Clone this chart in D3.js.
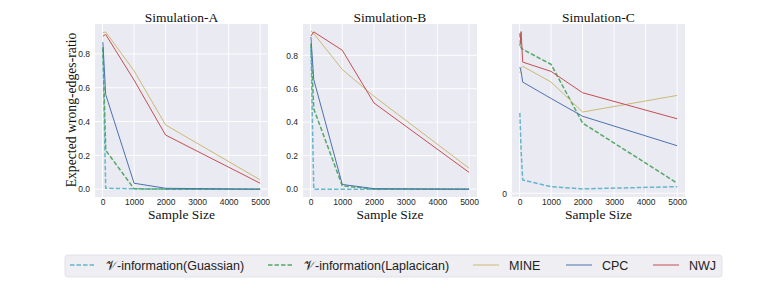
<!DOCTYPE html>
<html>
<head>
<meta charset="utf-8">
<script src="https://cdn.jsdelivr.net/npm/d3@7"></script>
<style>
	body { margin: 0; background: #fff; }
	svg { display: block; }
</style>
</head>
<body>
<svg id="chart" width="761" height="293"></svg>
<script>
// sample sizes on the x axis
var sizesAB = [10, 100, 1000, 2000, 5000];
var sizesC = [10, 50, 100, 1000, 2000, 5000];
var xTicks = [0, 1000, 2000, 3000, 4000, 5000];
var yTicks = [0, 0.2, 0.4, 0.6, 0.8];

// Simulation-A
var gaussA = [0.83, 0.005, 0.002, 0.0, 0.0];
var laplaceA = [0.84, 0.23, 0.002, 0.0, 0.0];
var mineA = [0.925, 0.93, 0.70, 0.38, 0.055];
var cpcA = [0.87, 0.56, 0.035, 0.005, 0.0];
var nwjA = [0.905, 0.915, 0.645, 0.32, 0.035];

// Simulation-B
var gaussB = [0.85, 0.0, 0.0, 0.0, 0.0];
var laplaceB = [0.87, 0.48, 0.02, 0.0, 0.0];
var mineB = [0.945, 0.93, 0.715, 0.555, 0.125];
var cpcB = [0.91, 0.655, 0.028, 0.003, 0.0];
var nwjB = [0.915, 0.94, 0.83, 0.515, 0.10];

// Simulation-C
var gaussC = [0.475, 0.25, 0.079, 0.039, 0.026, 0.039];
var laplaceC = [0.945, 0.86, 0.85, 0.762, 0.415, 0.06];
var mineC = [0.71, 0.74, 0.75, 0.657, 0.48, 0.578];
var cpcC = [0.745, 0.72, 0.657, 0.56, 0.455, 0.281];
var nwjC = [0.87, 0.955, 0.775, 0.72, 0.594, 0.44];

var methods = ["\uD835\uDCB1-information(Guassian)", "\uD835\uDCB1-information(Laplacican)", "MINE", "CPC", "NWJ"];
var colors = ["#64B5CD", "#55A868", "#CCB974", "#4C72B0", "#C44E52"];
var dashed = [true, true, false, false, false];

var panels = [
	{title: "Simulation-A", sizes: sizesAB, series: [gaussA, laplaceA, mineA, cpcA, nwjA],
		left: 95, right: 268, top: 24, bottom: 197, ydom: [-0.0465, 0.977], yticks: yTicks, ylabel: true},
	{title: "Simulation-B", sizes: sizesAB, series: [gaussB, laplaceB, mineB, cpcB, nwjB],
		left: 303, right: 477, top: 24, bottom: 197, ydom: [-0.047, 0.987], yticks: yTicks, ylabel: false},
	{title: "Simulation-C", sizes: sizesC, series: [gaussC, laplaceC, mineC, cpcC, nwjC],
		left: 512, right: 685, top: 24, bottom: 197, ydom: [-0.022, 1.0], yticks: [0], ylabel: false}
];

var svg = d3.select("#chart");
var serif = "'Liberation Serif', 'Times New Roman', serif";
var sans = "'Liberation Sans', Arial, sans-serif";

panels.forEach(function(p) {
	var x = d3.scaleLinear().domain([-239.5, 5249.5]).range([p.left, p.right]);
	var y = d3.scaleLinear().domain(p.ydom).range([p.bottom, p.top]);
	var g = svg.append("g");

	g.append("rect")
		.attr("x", p.left).attr("y", p.top)
		.attr("width", p.right - p.left).attr("height", p.bottom - p.top)
		.attr("fill", "#EAEAF2");

	// gridlines
	g.selectAll(".vgrid").data(xTicks).enter().append("line")
		.attr("x1", function(d) { return x(d); }).attr("x2", function(d) { return x(d); })
		.attr("y1", p.top).attr("y2", p.bottom)
		.attr("stroke", "#fff").attr("stroke-width", 0.9);
	g.selectAll(".hgrid").data(p.yticks).enter().append("line")
		.attr("x1", p.left).attr("x2", p.right)
		.attr("y1", function(d) { return y(d); }).attr("y2", function(d) { return y(d); })
		.attr("stroke", "#fff").attr("stroke-width", 0.9);

	// axes, no domain line and no tick marks
	var xa = g.append("g").attr("transform", "translate(0," + p.bottom + ")")
		.call(d3.axisBottom(x).tickValues(xTicks).tickSize(0).tickPadding(2).tickFormat(d3.format("d")));
	var ya = g.append("g").attr("transform", "translate(" + p.left + ",0)")
		.call(d3.axisLeft(y).tickValues(p.yticks).tickSize(0).tickPadding(5)
			.tickFormat(p.yticks.length > 1 ? d3.format(".1f") : d3.format("d")));
	[xa, ya].forEach(function(a) {
		a.select(".domain").remove();
		a.selectAll("text").attr("fill", "#262626").style("font-family", sans).style("font-size", "8.5px");
	});

	var line = d3.line()
		.x(function(d, i) { return x(p.sizes[i]); })
		.y(function(d) { return y(d); });

	p.series.forEach(function(s, k) {
		g.append("path")
			.datum(s)
			.attr("d", line)
			.attr("fill", "none")
			.attr("stroke", colors[k])
			.attr("stroke-width", dashed[k] ? 1.5 : 1)
			.attr("stroke-dasharray", dashed[k] ? "4.5,2" : null);
	});

	g.append("text")
		.attr("x", (p.left + p.right) / 2).attr("y", 22)
		.attr("text-anchor", "middle")
		.style("font-family", serif).style("font-size", "13.5px").attr("fill", "#111")
		.text(p.title);

	g.append("text")
		.attr("x", (p.left + p.right) / 2).attr("y", 219)
		.attr("text-anchor", "middle")
		.style("font-family", serif).style("font-size", "13.5px").attr("fill", "#111")
		.text("Sample Size");

	if(p.ylabel) {
		g.append("text")
			.attr("transform", "translate(76,110) rotate(-90)")
			.attr("text-anchor", "middle")
			.style("font-family", serif).style("font-size", "13.7px").attr("fill", "#111")
			.text("Expected wrong-edges-ratio");
	}
});

// legend
var legend = svg.append("g");
legend.append("rect")
	.attr("x", 65).attr("y", 255).attr("width", 657).attr("height", 22).attr("rx", 3)
	.attr("fill", "#EEEEF3").attr("stroke", "#DCDCE4").attr("stroke-width", 0.8);

var legendX = [70, 268, 473, 566, 653];
methods.forEach(function(m, k) {
	legend.append("line")
		.attr("x1", legendX[k]).attr("x2", legendX[k] + 26)
		.attr("y1", 265).attr("y2", 265)
		.attr("stroke", colors[k])
		.attr("stroke-width", dashed[k] ? 1.5 : 1)
		.attr("stroke-dasharray", dashed[k] ? "4.5,2" : null);
	legend.append("text")
		.attr("x", legendX[k] + 36).attr("y", 270)
		.style("font-family", sans).style("font-size", "12.5px").attr("fill", "#222")
		.text(m);
});
</script>
</body>
</html>
